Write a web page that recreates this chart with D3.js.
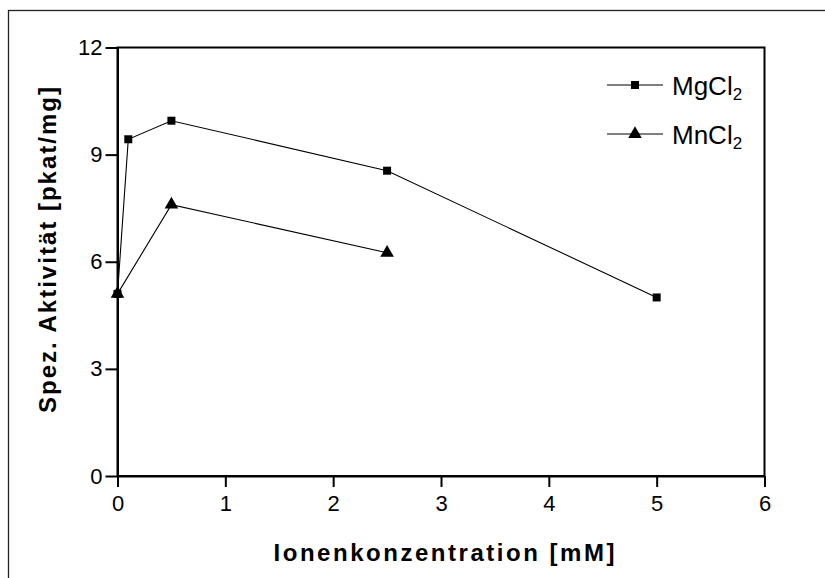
<!DOCTYPE html>
<html>
<head>
<meta charset="utf-8">
<script src="https://cdn.jsdelivr.net/npm/d3@7"></script>
<style>
  html, body { margin: 0; padding: 0; background: #fff; }
  svg { display: block; font-family: Arial, "Liberation Sans", sans-serif; }
</style>
</head>
<body>
<svg id="chart" width="825" height="578"></svg>
<script>
// Specific activity vs. ion concentration for two salts
const concMg = [0, 0.1, 0.5, 2.5, 5];
const actMg  = [5.1, 9.43, 9.95, 8.55, 5.0];
const concMn = [0, 0.5, 2.5];
const actMn  = [5.1, 7.6, 6.25];
const xTicks = [0, 1, 2, 3, 4, 5, 6];
const yTicks = [0, 3, 6, 9, 12];
const seriesNames = ["MgCl", "MnCl"];
const xTitle = "Ionenkonzentration [mM]";
const yTitle = "Spez. Aktivität [pkat/mg]";

const svg = d3.select("#chart");
const plotLeft = 117.5, plotRight = 764.5, plotTop = 47.5, plotBottom = 476;

const x = d3.scaleLinear().domain([0, 6]).range([plotLeft, plotRight]);
const y = d3.scaleLinear().domain([0, 12]).range([plotBottom, plotTop]);

// outer frame
svg.append("rect")
  .attr("x", 8.5).attr("y", 10.5).attr("width", 900).attr("height", 700)
  .attr("fill", "none").attr("stroke", "#222").attr("stroke-width", 1.3);

// plot box
svg.append("rect")
  .attr("x", plotLeft).attr("y", plotTop)
  .attr("width", plotRight - plotLeft).attr("height", plotBottom - plotTop)
  .attr("fill", "none").attr("stroke", "#000").attr("stroke-width", 2);

const xAxis = svg.append("g").attr("transform", `translate(0,${plotBottom})`)
  .call(d3.axisBottom(x).tickValues(xTicks).tickFormat(d3.format("d"))
    .tickSize(11).tickSizeOuter(0).tickPadding(8));
const yAxis = svg.append("g").attr("transform", `translate(${plotLeft},0)`)
  .call(d3.axisLeft(y).tickValues(yTicks).tickFormat(d3.format("d"))
    .tickSize(12).tickSizeOuter(0).tickPadding(3));

[xAxis, yAxis].forEach(g => {
  g.select(".domain").attr("stroke", "#000").attr("stroke-width", 2);
  g.selectAll(".tick line").attr("stroke", "#000").attr("stroke-width", 2);
  g.selectAll(".tick text").attr("fill", "#000")
    .style("font-size", "22px").style("font-family", "Arial, 'Liberation Sans', sans-serif");
});

// axis titles
svg.append("text")
  .attr("x", 444).attr("y", 561)
  .attr("text-anchor", "middle")
  .style("font-size", "24px").style("font-weight", "bold")
  .attr("textLength", 341).attr("lengthAdjust", "spacing")
  .text(xTitle);

svg.append("text")
  .attr("transform", "translate(56,250) rotate(-90)")
  .attr("text-anchor", "middle")
  .style("font-size", "24px").style("font-weight", "bold")
  .attr("textLength", 326).attr("lengthAdjust", "spacing")
  .text(yTitle);

const line = d3.line().x(d => x(d[0])).y(d => y(d[1]));
const squareSym = d3.symbol().type(d3.symbolSquare).size(64);
const triSym = d3.symbol().type(d3.symbolTriangle).size(80);

const mg = concMg.map((c, i) => [c, actMg[i]]);
const mn = concMn.map((c, i) => [c, actMn[i]]);

svg.append("path").datum(mg).attr("d", line)
  .attr("fill", "none").attr("stroke", "#000").attr("stroke-width", 1.1);
svg.selectAll(".mg").data(mg).enter().append("path")
  .attr("transform", d => `translate(${x(d[0])},${y(d[1])})`)
  .attr("d", squareSym).attr("fill", "#000");

svg.append("path").datum(mn).attr("d", line)
  .attr("fill", "none").attr("stroke", "#000").attr("stroke-width", 1.1);
svg.selectAll(".mn").data(mn).enter().append("path")
  .attr("transform", d => `translate(${x(d[0])},${y(d[1])})`)
  .attr("d", triSym).attr("fill", "#000");

// legend
const legendRows = [
  { name: seriesNames[0], sym: squareSym, yy: 85 },
  { name: seriesNames[1], sym: triSym, yy: 134 }
];
legendRows.forEach(r => {
  svg.append("line").attr("x1", 607).attr("x2", 663).attr("y1", r.yy).attr("y2", r.yy)
    .attr("stroke", "#000").attr("stroke-width", 1.1);
  svg.append("path").attr("transform", `translate(635,${r.yy})`).attr("d", r.sym).attr("fill", "#000");
  const t = svg.append("text").attr("x", 672).attr("y", r.yy + 9.5).style("font-size", "26px");
  t.append("tspan").text(r.name);
  t.append("tspan").attr("dy", 5).style("font-size", "17px").text("2");
});
</script>
</body>
</html>
